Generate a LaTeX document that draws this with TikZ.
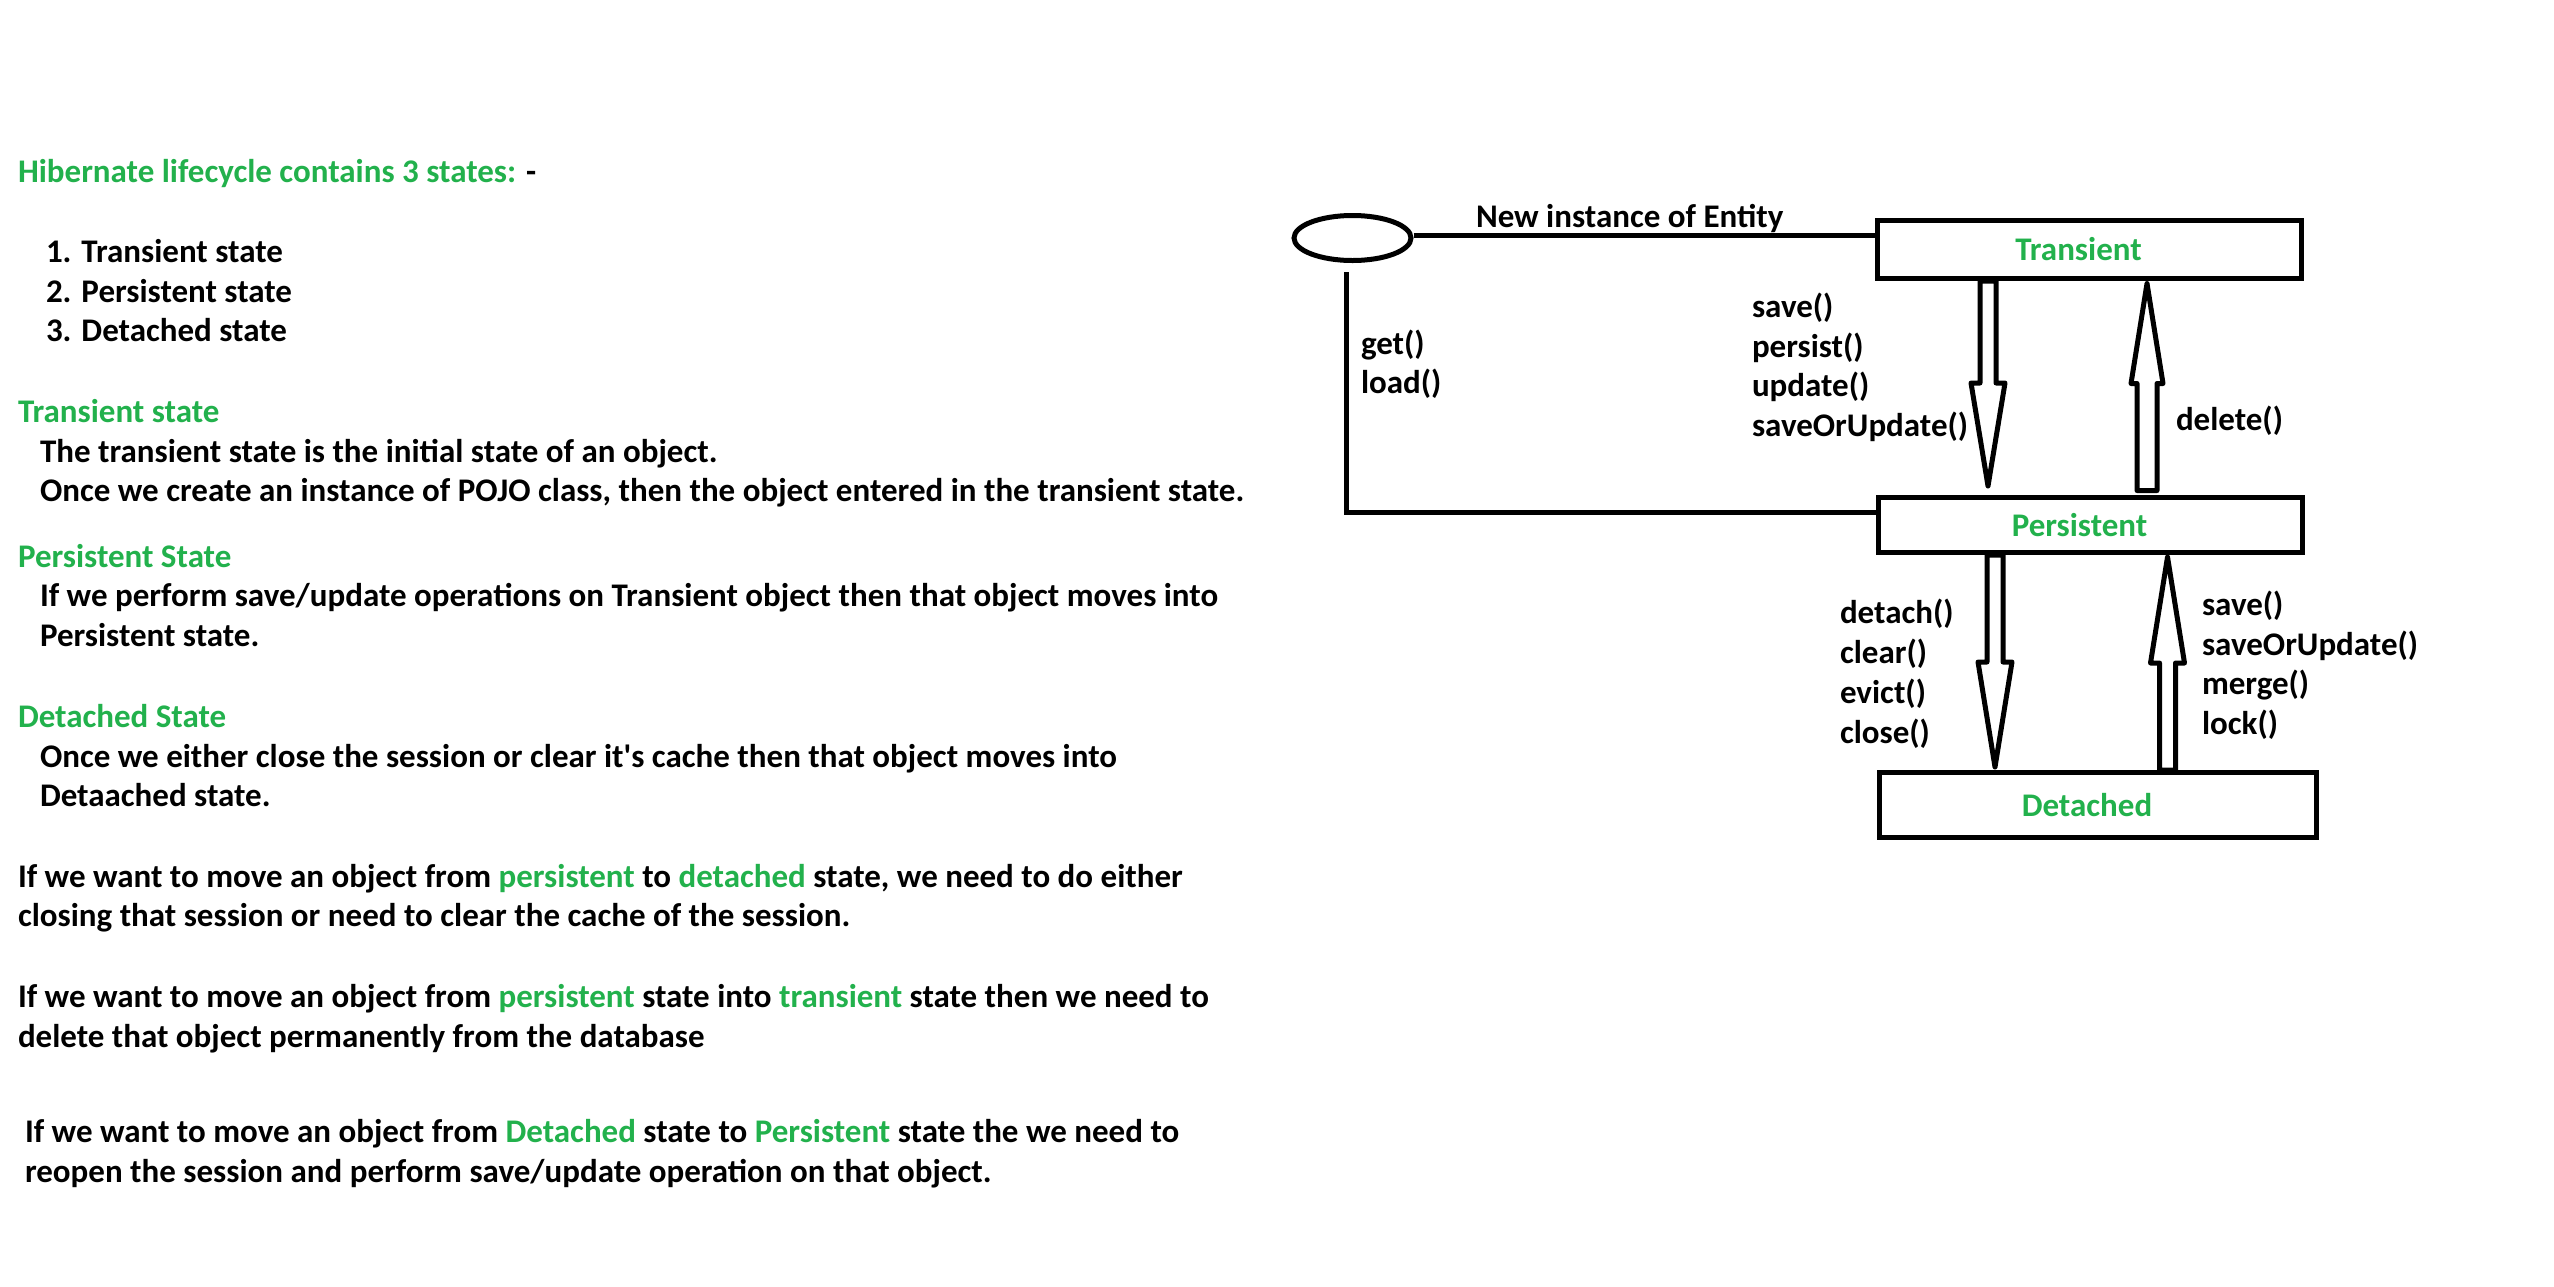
\documentclass[tikz,border=0pt]{standalone}
\usepackage{fontspec}
\setmainfont{Carlito}
\usetikzlibrary{calc,shapes.geometric}
\definecolor{hgreen}{RGB}{34,177,76}
\tikzset{
  txt/.style={anchor=base west, inner sep=0pt, outer sep=0pt},
  stbox/.style={draw, line width=5pt, inner sep=0pt},
  boxlab/.style={text=hgreen, xshift=-11pt},
  conn/.style={line width=5pt},
  blockarrow/.style n args={3}{draw, line width=5pt, line join=round,
    to path={let \p1=(\tikztostart), \p2=(\tikztotarget),
      \n1={sign(\y1-\y2)}, \n2={\y2+\n1*#3} in
      (\x1-#1,\y1) -- (\x1-#1,\n2) -- (\x1-#2,\n2) -- (\x2,\y2)
      -- (\x1+#2,\n2) -- (\x1+#1,\n2) -- (\x1+#1,\y1) -- cycle}}
}
\begin{document}
\begin{tikzpicture}[x=1pt,y=-1pt,font=\fontsize{33}{40}\selectfont\bfseries]
\useasboundingbox[fill=white] (0,0) rectangle (2554,1286);

% ---------- left text ----------
\node[txt] (h0) at (18,182) {\textcolor{hgreen}{Hibernate lifecycle contains 3 states:} -};
\node[txt] (l1) at (46,262) {1. Transient state};
\node[txt] (l2) at (46,302) {2. Persistent state};
\node[txt] (l3) at (46,341) {3. Detached state};

\node[txt,text=hgreen] (h1) at (18,422) {Transient state};
\node[txt] (t1) at (40,462) {The transient state is the initial state of an object.};
\node[txt] (t2) at (40,501) {Once we create an instance of POJO class, then the object entered in the transient state.};

\node[txt,text=hgreen] (h2) at (18,567) {Persistent State};
\node[txt] (p1t) at (40,606) {If we perform save/update operations on Transient object then that object moves into};
\node[txt] (p2t) at (40,646) {Persistent state.};

\node[txt,text=hgreen] (h3) at (18,727) {Detached State};
\node[txt] (d1t) at (40,767) {Once we either close the session or clear it\textquotesingle s cache then that object moves into};
\node[txt] (d2t) at (40,806) {Detaached state.};

\node[txt] (q1) at (18,887) {If we want to move an object from \textcolor{hgreen}{persistent} to \textcolor{hgreen}{detached} state, we need to do either};
\node[txt] (q2) at (18,926) {closing that session or need to clear the cache of the session.};

\node[txt] (r1) at (18,1007) {If we want to move an object from \textcolor{hgreen}{persistent} state into \textcolor{hgreen}{transient} state then we need to};
\node[txt] (r2) at (18,1047) {delete that object permanently from the database};

\node[txt] (s1) at (25,1142) {If we want to move an object from \textcolor{hgreen}{Detached} state to \textcolor{hgreen}{Persistent} state the we need to};
\node[txt] (s2) at (25,1182) {reopen the session and perform save/update operation on that object.};

% ---------- diagram ----------
\node[draw, ellipse, line width=5pt, minimum width=117pt, minimum height=45pt, inner sep=0pt] (E) at (1352.5,238) {};
\node[stbox, minimum width=424pt, minimum height=58pt, label={[boxlab]center:Transient}] (T) at (2089.5,249.5) {};
\node[stbox, minimum width=424pt, minimum height=55pt, label={[boxlab]center:Persistent}] (P) at (2090.5,525) {};
\node[stbox, minimum width=437pt, minimum height=65pt, label={[boxlab]center:Detached}] (D) at (2098,805) {};

% connectors from the start ellipse
\path (E.east) ++(0,-2.5) coordinate (e1);
\draw[conn] (e1) -- (e1 -| T.west);
\path (E.south) ++(-6.5,9) coordinate (e2);
\path (P.west) ++(0,-13) coordinate (pw);
\draw[conn] (e2) |- (pw);

% block arrows
\path (T.south) ++(-101.5,0) coordinate (a1s);
\path (a1s |- P.north) ++(0,-9) coordinate (a1e);
\path (P.north) ++(56.5,-4.5) coordinate (u1s);
\path (u1s |- T.south) ++(0,2.5) coordinate (u1e);
\path (P.south) ++(-95.5,0) coordinate (a2s);
\path (a2s |- D.north) ++(0,-3) coordinate (a2e);
\path (D.north) ++(69.5,0) coordinate (u2s);
\path (u2s |- P.south) ++(0,2) coordinate (u2e);

\draw[blockarrow={8pt}{17pt}{103pt}] (a1s) to (a1e);
\draw[blockarrow={10pt}{16pt}{100pt}] (u1s) to (u1e);
\draw[blockarrow={8pt}{17pt}{105pt}] (a2s) to (a2e);
\draw[blockarrow={8pt}{17pt}{106pt}] (u2s) to (u2e);

% labels
\node[txt] (ni) at (1476,227) {New instance of Entity};
\node[txt] (g1) at (1361,354) {get()};
\node[txt] (g2) at (1361,393) {load()};
\node[txt] (m1) at (1752,317) {save()};
\node[txt] (m2) at (1752,357) {persist()};
\node[txt] (m3) at (1752,396) {update()};
\node[txt] (m4) at (1752,436) {saveOrUpdate()};
\node[txt] (dl) at (2176,430) {delete()};
\node[txt] (k1) at (1840,623) {detach()};
\node[txt] (k2) at (1840,663) {clear()};
\node[txt] (k3) at (1840,703) {evict()};
\node[txt] (k4) at (1840,743) {close()};
\node[txt] (n1) at (2202,615) {save()};
\node[txt] (n2) at (2202,655) {saveOrUpdate()};
\node[txt] (n3) at (2202,694) {merge()};
\node[txt] (n4) at (2202,734) {lock()};
\end{tikzpicture}
\end{document}
